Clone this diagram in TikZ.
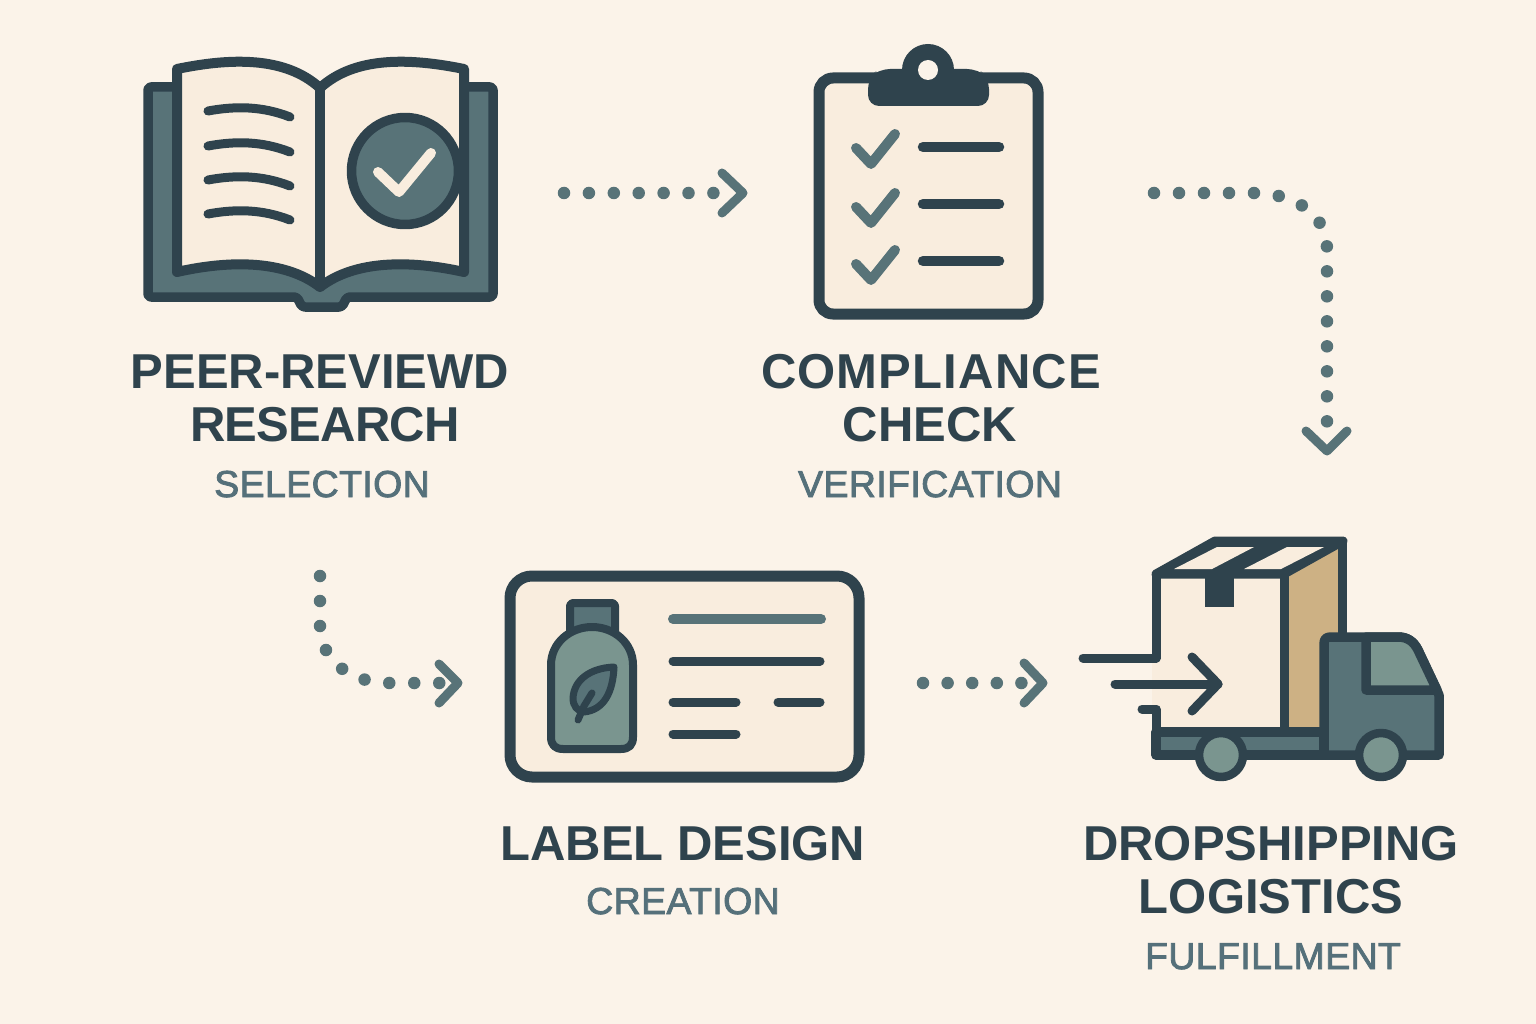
\documentclass[tikz,border=0pt]{standalone}
\usepackage{fontspec}
\setmainfont{Liberation Sans}
\newfontfamily\headfont{Liberation Sans Bold}
\newfontfamily\headwide[LetterSpace=2.4]{Liberation Sans Bold}
\newfontfamily\headtight[LetterSpace=-1.5]{Liberation Sans Bold}
\newfontfamily\subfont[LetterSpace=1,FakeBold=2.2]{Liberation Sans}
\definecolor{bgc}{HTML}{FBF3E9}
\definecolor{ink}{HTML}{2F434D}
\definecolor{teal}{HTML}{587378}
\definecolor{sage}{HTML}{7A958F}
\definecolor{paper}{HTML}{F9EDDE}
\definecolor{tan}{HTML}{CDB184}
\definecolor{subc}{HTML}{55707A}
\tikzset{
 outl/.style={draw=ink,line width=9.5pt,line join=round,line cap=round},
 txtline/.style={draw=ink,line width=9pt,line cap=round},
 dotted path/.style={draw=teal,line width=12.5pt,line cap=round,dash pattern=on 0pt off 25pt},
 chevron/.style={draw=teal,line width=9pt,line cap=round,line join=round},
 head/.style={font=\headfont\fontsize{49}{49}\selectfont,text=ink,anchor=base,inner sep=0pt},
 headw/.style={head,font=\headwide\fontsize{49}{49}\selectfont},
 headt/.style={head,font=\headtight\fontsize{49}{49}\selectfont},
 sub/.style={font=\subfont\fontsize{37.5}{37.5}\selectfont,text=subc,anchor=base,inner sep=0pt},
}
\begin{document}
\begin{tikzpicture}[x=1pt,y=-1pt]
\useasboundingbox (0,0) rectangle (1536,1024);
\fill[bgc] (0,0) rectangle (1536,1024);

% ---- book
\path[outl,fill=teal,rounded corners=3pt] (148,87) -- (493,87) -- (493,297) -- (347,297)
  -- (342,307) -- (302,307) -- (297,297) -- (148,297) -- cycle;
\path[outl,line width=10pt,fill=paper] (177,69) .. controls (230,58) and (285,56) .. (320,88)
  .. controls (355,56) and (410,58) .. (464,69) -- (464,272)
  .. controls (410,260) and (355,260) .. (320,287)
  .. controls (285,260) and (230,260) .. (177,272) -- cycle;
\draw[outl] (320,88) -- (320,287);
\foreach \yy in {111,146,180,214}
  \draw[txtline,line width=9pt] (208,\yy) .. controls (235,\yy-5) and (262,\yy-5) .. (290,\yy+6);
\path[outl,fill=teal] (405,171) circle (53.5pt);
\draw[draw=paper,line width=10pt,line cap=round,line join=round] (378,172) -- (399,192) -- (431,153);

% ---- clipboard
\path[draw=ink,line width=11pt,fill=paper,rounded corners=14pt] (819,78) rectangle (1038,314);
\fill[ink] (928,70) circle (26pt);
\fill[ink,rounded corners=11pt] (868,78) -- (879,69) -- (978,69) -- (989,78) -- (989,106) -- (868,106) -- cycle;
\fill[bgc] (928,70) circle (10pt);
\foreach \yy/\ll in {148/147,207/204,264/261}{
  \draw[draw=teal,line width=10pt,line cap=round,line join=round] (856,\yy) -- (871,\yy+16) -- (895,\yy-14);
  \draw[draw=ink,line width=10.5pt,line cap=round] (923,\ll) -- (999,\ll);
}

% ---- label card
\path[draw=ink,line width=11pt,fill=paper,rounded corners=22pt] (510,576) rectangle (859,777);
\path[outl,line width=8pt,fill=teal,rounded corners=3pt] (570,635) -- (570,603) -- (615,603) -- (615,635) -- cycle;
\path[outl,line width=8pt,fill=sage] (551,665) .. controls (551,643) and (570,627) .. (592,627)
   .. controls (614,627) and (633,643) .. (633,665) -- (633,737)
   .. controls (633,745) and (629,749) .. (621,749) -- (563,749)
   .. controls (555,749) and (551,745) .. (551,737) -- cycle;
\path[outl,line width=7pt,fill=teal] (614,667) .. controls (590,668) and (574,680) .. (573,698)
   .. controls (573,706) and (577,711) .. (584,712) .. controls (604,710) and (613,692) .. (614,667) -- cycle;
\draw[outl,line width=7pt] (578,720) -- (584,706) -- (592,693);
\draw[draw=teal,line width=10pt,line cap=round] (673,619) -- (821,619);
\foreach \a/\b/\c in {673/820/661,673/736/702,778/820/702,673/736/734}
  \draw[txtline] (\a,\c) -- (\b,\c);

% ---- truck and parcel
\fill[paper] (1152,574) rectangle (1284,732);
\path[fill=tan] (1284,578) -- (1342,545) -- (1342,640) -- (1320,640) -- (1320,732) -- (1284,732) -- cycle;
\fill[ink,line join=round] (1156,574) -- (1215,541) -- (1343,541) -- (1284,574) -- cycle;
\path[draw=ink,line width=9pt,line join=round] (1156,574) -- (1215,541) -- (1343,541) -- (1284,574) -- cycle;
\fill[paper] (1174,569) -- (1212,569) -- (1254,547) -- (1217,547) -- cycle;
\fill[paper] (1244,569) -- (1281,569) -- (1324,547) -- (1287,547) -- cycle;
\fill[ink] (1205,574) rectangle (1234,607);
\draw[draw=ink,line width=9pt] (1284,574) -- (1284,732);
\draw[draw=ink,line width=9pt] (1342,541) -- (1342,637);
\draw[draw=ink,line width=9pt,line cap=round,line join=round] (1083,658) -- (1156,658) -- (1156,574);
\draw[draw=ink,line width=9pt,line cap=round,line join=round] (1142,709) -- (1156,709) -- (1156,732);
\path[outl,fill=teal] (1156,732) -- (1324,732) -- (1324,755) -- (1156,755) -- cycle;
\path[outl,fill=teal] (1324,644) .. controls (1324,639) and (1326,637) .. (1331,637) -- (1398,637)
   .. controls (1408,637) and (1414,642) .. (1418,650) -- (1439,695) -- (1439,755) -- (1324,755) -- cycle;
\path[outl,fill=sage] (1366,637) -- (1398,637) .. controls (1408,637) and (1414,642) .. (1418,650) -- (1437,690) -- (1366,690) -- cycle;
\foreach \xx in {1221,1381}
  \path[outl,line width=8.5pt,fill=sage] (\xx,755) circle (22pt);
\draw[draw=ink,line width=9pt,line cap=round,line join=round] (1115,684) -- (1218,684);
\draw[draw=ink,line width=9pt,line cap=round,line join=round] (1192,657) -- (1218,684) -- (1192,711);

% ---- connectors
\coordinate (c1a) at (564,193);
\coordinate (c1b) at (716,193);
\coordinate (t1a) at (722,173);
\coordinate (t1b) at (743,193);
\coordinate (t1c) at (722,213);
\draw[dotted path,dash pattern=on 0pt off 24.9pt] (c1a) -- (c1b);
\draw[chevron] (t1a) -- (t1b) -- (t1c);

\coordinate (c2a) at (1154,193);
\coordinate (c2b) at (1327,425);
\coordinate (t2a) at (1306,431);
\coordinate (t2b) at (1327,451);
\coordinate (t2c) at (1347,431);
\draw[dotted path] (c2a) -- (1253,193) .. controls (1292,193) and (1327,212) .. (1327,250) -- (c2b);
\draw[chevron] (t2a) -- (t2b) -- (t2c);

\coordinate (c3a) at (320,576);
\coordinate (c3b) at (440,683);
\coordinate (t3a) at (439,664);
\coordinate (t3b) at (458,683);
\coordinate (t3c) at (439,703);
\draw[dotted path] (c3a) -- (320,625) .. controls (320,660) and (350,683) .. (390,683) -- (c3b);
\draw[chevron] (t3a) -- (t3b) -- (t3c);

\coordinate (c4a) at (923,683);
\coordinate (c4b) at (1024,683);
\coordinate (t4a) at (1024,663);
\coordinate (t4b) at (1043,683);
\coordinate (t4c) at (1024,703);
\draw[dotted path,dash pattern=on 0pt off 24.6pt] (c4a) -- (c4b);
\draw[chevron] (t4a) -- (t4b) -- (t4c);

% ---- labels
\node[head]  (h1a) at (320,388) {PEER-REVIEWD};
\node[headt] (h1b) at (325,441) {RESEARCH};
\node[sub]   (s1)  at (322,497) {SELECTION};
\node[headw] (h2a) at (931,388) {COMPLIANCE};
\node[head]  (h2b) at (930,441) {CHECK};
\node[sub]   (s2)  at (930,497) {VERIFICATION};
\node[head]  (h3)  at (683,860) {LABEL DESIGN};
\node[sub]   (s3)  at (683,914) {CREATION};
\node[head]  (h4a) at (1271,860) {DROPSHIPPING};
\node[head]  (h4b) at (1271,913) {LOGISTICS};
\node[sub]   (s4)  at (1273,969) {FULFILLMENT};
\end{tikzpicture}
\end{document}
